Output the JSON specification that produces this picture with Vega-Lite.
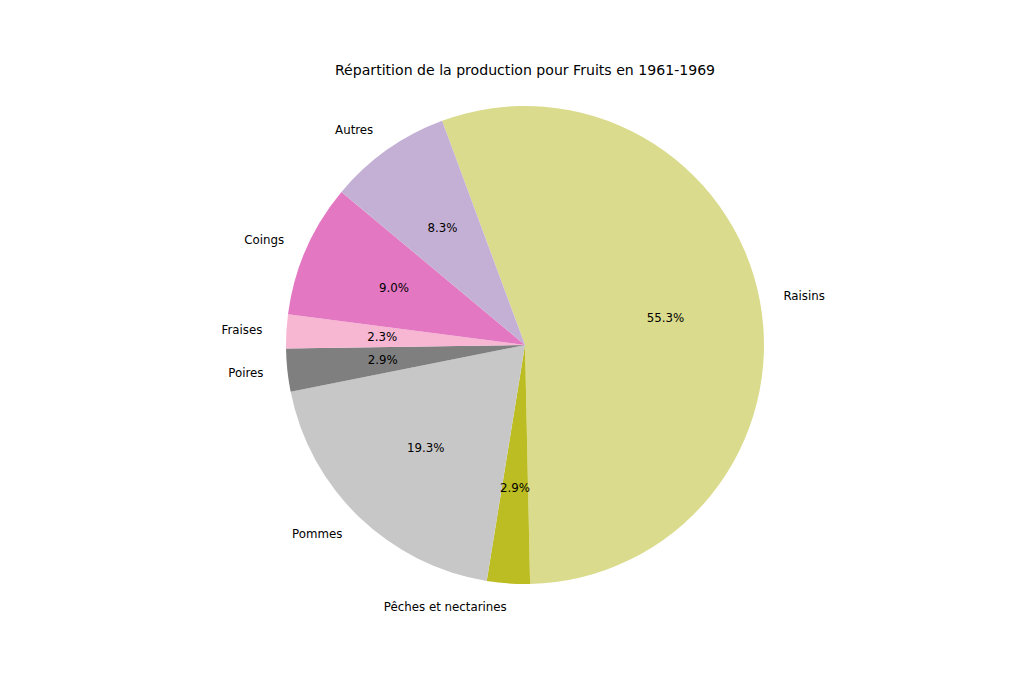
{
  "$schema": "https://vega.github.io/schema/vega-lite/v6.json",
  "width": 1050,
  "height": 690,
  "padding": 0,
  "autosize": {"type": "none"},
  "background": "white",
  "title": {"text": "Répartition de la production pour Fruits en 1961-1969", "font": "DejaVu Sans", "fontSize": 14.1, "fontWeight": "normal", "color": "black", "anchor": "middle", "baseline": "middle", "dy": 89},
  "data": {"values": [
    {"cat": "Raisins", "value": 55.3, "pct": "55.3%", "o": 1},
    {"cat": "Pêches et nectarines", "value": 2.9, "pct": "2.9%", "o": 2},
    {"cat": "Pommes", "value": 19.3, "pct": "19.3%", "o": 3},
    {"cat": "Poires", "value": 2.9, "pct": "2.9%", "o": 4},
    {"cat": "Fraises", "value": 2.3, "pct": "2.3%", "o": 5},
    {"cat": "Coings", "value": 9.0, "pct": "9.0%", "o": 6},
    {"cat": "Autres", "value": 8.3, "pct": "8.3%", "o": 7}
  ]},
  "encoding": {
    "theta": {"field": "value", "type": "quantitative", "stack": true, "scale": {"range": [-0.3543, 5.9289]}},
    "order": {"field": "o", "type": "quantitative"}
  },
  "layer": [
    {
      "mark": {"type": "arc", "outerRadius": 239},
      "encoding": {
        "color": {"field": "cat", "type": "nominal", "legend": null,
          "scale": {"domain": ["Raisins", "Pêches et nectarines", "Pommes", "Poires", "Fraises", "Coings", "Autres"],
                    "range": ["#dbdb8d", "#bcbd22", "#c7c7c7", "#7f7f7f", "#f7b6d2", "#e377c2", "#c5b0d5"]}}
      }
    },
    {
      "mark": {"type": "text", "radius": 143, "font": "DejaVu Sans", "fontSize": 11.8, "color": "black", "align": "center", "baseline": "middle"},
      "encoding": {"text": {"field": "pct"}}
    },
    {
      "mark": {"type": "text", "radius": 263, "font": "DejaVu Sans", "fontSize": 11.8, "color": "black", "align": "left", "baseline": "middle"},
      "encoding": {"text": {"condition": {"test": "datum.cat === 'Raisins'", "field": "cat"}, "value": ""}}
    },
    {
      "mark": {"type": "text", "radius": 263, "font": "DejaVu Sans", "fontSize": 11.8, "color": "black", "align": "right", "baseline": "middle"},
      "encoding": {"text": {"condition": {"test": "datum.cat !== 'Raisins'", "field": "cat"}, "value": ""}}
    }
  ]
}
